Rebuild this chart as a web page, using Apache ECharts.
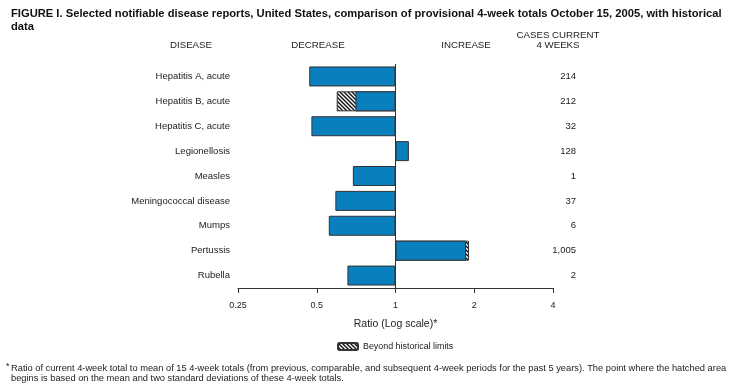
<!DOCTYPE html>
<html>
<head>
<meta charset="utf-8">
<script src="https://cdn.jsdelivr.net/npm/echarts@6/dist/echarts.min.js"></script>
<style>
html,body{margin:0;padding:0;background:#fff;}
#chart{width:736px;height:392px;}
</style>
</head>
<body>
<div id="chart"></div>
<script>
const diseases = ['Hepatitis A, acute', 'Hepatitis B, acute', 'Hepatitis C, acute', 'Legionellosis', 'Measles', 'Meningococcal disease', 'Mumps', 'Pertussis', 'Rubella'];
const ratios = [0.468, 0.703, 0.477, 1.125, 0.687, 0.589, 0.556, 1.86, 0.655];
const beyondLimits = [null, 0.596, null, null, null, null, null, 1.91, null];
const cases = ['214', '212', '32', '128', '1', '37', '6', '1,005', '2'];
const xTicks = [0.25, 0.5, 1, 2, 4];

function hatch() {
  const s = 4;
  const c = document.createElement('canvas');
  c.width = s; c.height = s;
  const g = c.getContext('2d');
  g.fillStyle = '#fff';
  g.fillRect(0, 0, s, s);
  g.strokeStyle = '#111';
  g.lineWidth = 1.4;
  g.beginPath();
  g.moveTo(-1, -1); g.lineTo(s + 1, s + 1);
  g.moveTo(-1, s - 1); g.lineTo(1, s + 1);
  g.moveTo(s - 1, -1); g.lineTo(s + 1, 1);
  g.stroke();
  return c;
}

const FONT = '"Liberation Sans", Arial, sans-serif';
const chart = echarts.init(document.getElementById('chart'));
chart.setOption({
  animation: false,
  textStyle: { fontFamily: FONT, color: '#222' },
  title: {
    text: 'FIGURE I. Selected notifiable disease reports, United States, comparison of provisional 4-week totals October 15, 2005, with historical\ndata',
    left: 6, top: 2,
    textStyle: { fontFamily: FONT, fontWeight: 'bold', fontSize: 11.2, lineHeight: 13, color: '#111' }
  },
  grid: { left: 238, right: 183, top: 64, bottom: 104 },
  xAxis: {
    type: 'log', logBase: 2, min: xTicks[0], max: xTicks[xTicks.length - 1], splitNumber: 4,
    axisLine: { show: true, lineStyle: { color: '#333', width: 1 } },
    axisTick: { show: true, length: 5, lineStyle: { color: '#333' } },
    splitLine: { show: false },
    axisLabel: { fontSize: 9, color: '#222', margin: 13, formatter: v => String(v) },
    name: 'Ratio (Log scale)*', nameLocation: 'middle', nameGap: 31,
    nameTextStyle: { fontSize: 10.5, color: '#222' }
  },
  yAxis: [
    { type: 'category', data: diseases, inverse: true, position: 'left',
      axisLine: { show: false }, axisTick: { show: false },
      axisLabel: { fontSize: 9.5, color: '#222', margin: 8 } },
    { type: 'category', data: cases, inverse: true, position: 'right',
      axisLine: { show: false }, axisTick: { show: false },
      axisLabel: { fontSize: 9.5, color: '#222', margin: 23, align: 'right' } }
  ],
  legend: {
    data: ['Beyond historical limits'], left: 332, top: 337,
    itemWidth: 20, itemHeight: 7, itemGap: 6,
    textStyle: { fontSize: 8.9, color: '#222' }
  },
  series: [
    { name: 'Beyond historical limits', type: 'bar', yAxisIndex: 0, data: beyondLimits,
      barWidth: 20, barGap: '-100%',
      itemStyle: { color: { image: hatch(), repeat: 'repeat' }, borderColor: '#333', borderWidth: 1 } },
    { name: 'Ratio', type: 'bar', yAxisIndex: 0, data: ratios,
      barWidth: 20, barGap: '-100%',
      itemStyle: { color: '#0a7fbd', borderColor: '#333', borderWidth: 1 },
      markLine: { silent: true, symbol: 'none', label: { show: false },
        lineStyle: { color: '#333', width: 1, type: 'solid' }, data: [{ xAxis: 1 }] } }
  ],
  graphic: [
    { type: 'text', x: 191, y: 40, style: { text: 'DISEASE', fontSize: 9.7, align: 'center', fontFamily: FONT, fill: '#222' } },
    { type: 'text', x: 318, y: 40, style: { text: 'DECREASE', fontSize: 9.7, align: 'center', fontFamily: FONT, fill: '#222' } },
    { type: 'text', x: 466, y: 40, style: { text: 'INCREASE', fontSize: 9.7, align: 'center', fontFamily: FONT, fill: '#222' } },
    { type: 'text', x: 558, y: 30, style: { text: 'CASES CURRENT\n4 WEEKS', fontSize: 9.7, lineHeight: 10.5, align: 'center', fontFamily: FONT, fill: '#222' } },
    { type: 'text', left: 6, top: 362, style: { text: '*', fontSize: 9, fontFamily: FONT, fill: '#222' } },
    { type: 'text', left: 11, top: 363, style: { text: 'Ratio of current 4-week total to mean of 15 4-week totals (from previous, comparable, and subsequent 4-week periods for the past 5 years). The point where the hatched area\nbegins is based on the mean and two standard deviations of these 4-week totals.', fontSize: 9.3, lineHeight: 10, fontFamily: FONT, fill: '#222' } }
  ]
});
</script>
</body>
</html>
